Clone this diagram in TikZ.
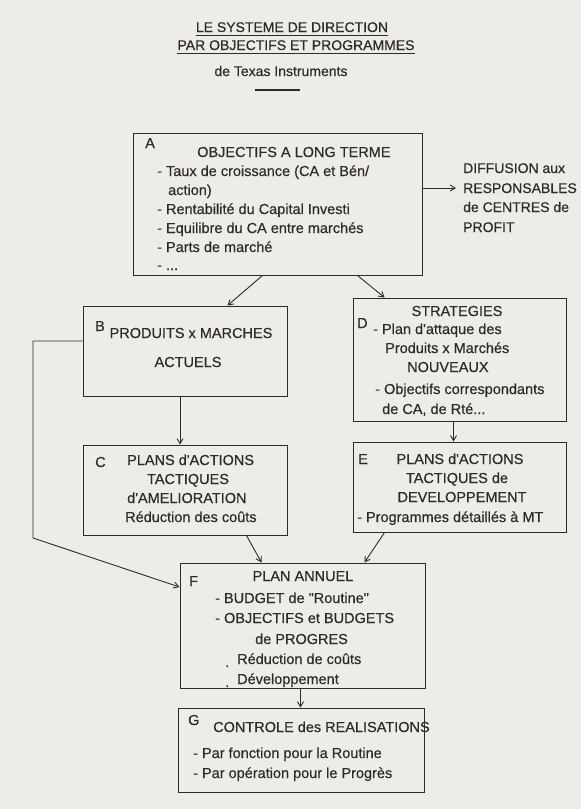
\documentclass[tikz,border=0pt]{standalone}
\usepackage{fontspec}
\setmainfont{Liberation Sans}[Ligatures=TeXOff, FakeBold=0.4]
\usetikzlibrary{arrows.meta}
\definecolor{ink}{RGB}{45,42,40}
\definecolor{paper}{RGB}{238,236,233}
\newcommand\fs{\fontsize{14.5}{19}\selectfont}
\newcommand\fst{\fontsize{14}{18}\selectfont}
\tikzset{
  box/.style={draw=ink, line width=1pt, inner sep=0pt, rectangle},
  txt/.style={anchor=base west, inner sep=0pt, font=\fs, text=ink},
  dtxt/.style={anchor=base west, inner sep=0pt, font=\fst, text=ink},
  ctxt/.style={anchor=base, inner sep=0pt, font=\fs, text=ink},
  ttl/.style={anchor=base, inner sep=0pt, font=\fst, text=ink},
  arr/.style={draw=ink, line width=0.9pt, -{Straight Barb[length=5pt,width=6pt]}},
  ln/.style={draw=ink, line width=0.9pt}
}
\begin{document}
\begin{tikzpicture}[x=1pt,y=-1pt]
\fill[paper] (0,0) rectangle (581,809);
\useasboundingbox (0,0) rectangle (581,809);
% title
\node[ttl] (t1) at (292,32) {LE SYSTEME DE DIRECTION};
\node[ttl] (t2) at (296,50) {PAR OBJECTIFS ET PROGRAMMES};
\node[ttl] (t3) at (281,76) {de Texas Instruments};
\draw[ln] ([yshift=-3pt]t1.base west) -- ([yshift=-3pt]t1.base east);
\draw[ln] ([yshift=-3.5pt]t2.base west) -- ([yshift=-3.5pt]t2.base east);
\coordinate (r1) at (255,90);
\coordinate (r2) at (300,90);
\draw[draw=ink, line width=1.5pt] (r1) -- (r2);
% boxes
\node[box, minimum width=289pt, minimum height=142pt] (A) at (277.5,204) {};
\node[box, minimum width=204pt, minimum height=90pt] (B) at (185,351) {};
\node[box, minimum width=204pt, minimum height=90pt] (C) at (185,490) {};
\node[box, minimum width=213pt, minimum height=123pt] (D) at (459.5,359.5) {};
\node[box, minimum width=213pt, minimum height=90pt] (E) at (459.5,487) {};
\node[box, minimum width=245pt, minimum height=125pt] (F) at (302.5,625.5) {};
\node[box, minimum width=246pt, minimum height=84pt] (G) at (301,750) {};
% A texts
\node[txt] (aL) at (145,148) {A};
\node[txt] (a0) at (197,157) {OBJECTIFS A LONG TERME};
\node[txt] (a1) at (157,176) {- Taux de croissance (CA et Bén/};
\node[txt] (a2) at (168,195) {action)};
\node[txt] (a3) at (157,214) {- Rentabilité du Capital Investi};
\node[txt] (a4) at (157,233) {- Equilibre du CA entre marchés};
\node[txt] (a5) at (157,252) {- Parts de marché};
\node[txt] (a6) at (157,270) {- ...};
% diffusion
\node[dtxt] (d1) at (463,173) {DIFFUSION aux};
\node[dtxt] (d2) at (463,193) {RESPONSABLES};
\node[dtxt] (d3) at (463,212) {de CENTRES de};
\node[dtxt] (d4) at (463,232) {PROFIT};
\coordinate (dif) at (456,188);
% B texts
\node[txt] (bL) at (95,331) {B};
\node[ctxt] (b1) at (191,338) {PRODUITS x MARCHES};
\node[ctxt] (b2) at (188,367) {ACTUELS};
% C texts
\node[txt] (cL) at (95,467) {C};
\node[txt] (c1) at (127,465) {PLANS d'ACTIONS};
\node[ctxt] (c2) at (188,484) {TACTIQUES};
\node[txt] (c3) at (127,503) {d'AMELIORATION};
\node[txt] (c4) at (125,522) {Réduction des coûts};
% D texts
\node[ctxt] (dS) at (457,316) {STRATEGIES};
\node[txt] (dL) at (357,328) {D};
\node[txt] (dd1) at (373,334) {- Plan d'attaque des};
\node[txt] (dd2) at (385,353) {Produits x Marchés};
\node[txt] (dd3) at (407,372) {NOUVEAUX};
\node[txt] (dd4) at (375,394) {- Objectifs correspondants};
\node[txt] (dd5) at (382,414) {de CA, de Rté...};
% E texts
\node[txt] (eL) at (358,464) {E};
\node[ctxt] (e1) at (460,464) {PLANS d'ACTIONS};
\node[ctxt] (e2) at (457,483) {TACTIQUES de};
\node[ctxt] (e3) at (462,502) {DEVELOPPEMENT};
\node[txt] (e4) at (357,522) {- Programmes détaillés à MT};
% F texts
\node[txt] (fL) at (189,586) {F};
\node[ctxt] (f0) at (303,581) {PLAN ANNUEL};
\node[txt] (f1) at (215,603) {- BUDGET de "Routine"};
\node[txt] (f2) at (215,623) {- OBJECTIFS et BUDGETS};
\node[txt] (f3) at (255,644) {de PROGRES};
\node[txt] (f4b) at (225,667) {.};
\node[txt] (f4) at (237,664) {Réduction de coûts};
\node[txt] (f5b) at (225,687) {.};
\node[txt] (f5) at (237,684) {Développement};
% G texts
\node[txt] (gL) at (188,725) {G};
\node[txt] (g0) at (213,732) {CONTROLE des REALISATIONS};
\node[txt] (g1) at (193,758) {- Par fonction pour la Routine};
\node[txt] (g2) at (193,778) {- Par opération pour le Progrès};
% connectors
\draw[arr] ([xshift=130pt]A.south west) -- ([xshift=145pt]B.north west);
\draw[arr] ([xshift=225pt]A.south west) -- ([xshift=32pt]D.north west);
\draw[arr] ([yshift=16pt]A.east) -- (dif);
\draw[arr] ([xshift=-5pt]B.south) -- ([xshift=-5pt]C.north);
\draw[arr] ([xshift=-6pt]D.south) -- ([xshift=-6pt]E.north);
\draw[arr] ([xshift=164pt]C.south west) -- ([xshift=82pt]F.north west);
\draw[arr] ([xshift=32pt]E.south west) -- ([xshift=185pt]F.north west);
\coordinate (loop) at (33,538);
\draw[arr] ([yshift=10pt]B.west) -| (loop) -- ([yshift=38.5pt]F.west);
\draw[arr] ([xshift=-2pt]F.south) -- ([xshift=-2pt]F.south |- G.north);
\end{tikzpicture}
\end{document}
